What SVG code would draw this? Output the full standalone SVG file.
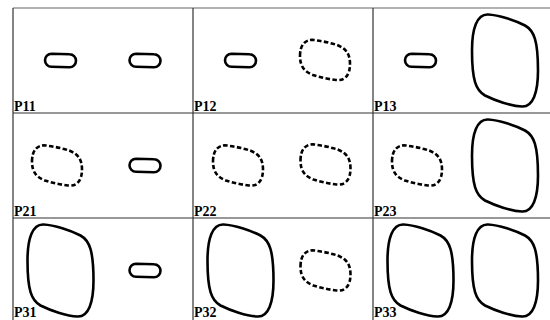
<svg xmlns="http://www.w3.org/2000/svg" xmlns:xlink="http://www.w3.org/1999/xlink" width="550" height="320" viewBox="0 0 550 320">
<style>
.grid{stroke:#333;stroke-width:1.2;fill:none}
.sh{fill:none;stroke:#000;stroke-width:2.6;stroke-linejoin:round}
.dash{stroke-dasharray:4.5 2.4}
.lbl{font-family:"Liberation Serif","Times New Roman",serif;font-size:14px;font-weight:bold;fill:#000}
</style>
<defs>
<path id="small" class="sh" d="M -9,-6.8 L 9,-6.2 A 6.5,6.5 0 0 1 9,6.8 L -9,6.2 A 6.5,6.5 0 0 1 -9,-6.8 Z"/>
<path id="dashed" class="sh dash" d="M -25,-4 C -25,-15 -20,-21 -11,-20 C -3,-19 6,-17 12,-15 C 20,-12 25,-7 25,4 C 25,15 20,21 11,20 C 3,19 -6,17 -12,15 C -20,12 -25,7 -25,-4 Z"/>
<path id="big" class="sh" d="M -33,-10 C -33,-32 -28,-46.5 -17,-46 C -6,-45.5 10,-40 20,-35 C 29,-30 33,-20 33,10 C 33,32 28,46.5 17,46 C 6,45.5 -10,40 -20,35 C -29,30 -33,20 -33,-10 Z"/>
</defs>
<rect width="550" height="320" fill="#fff"/>
<g id="grid" class="grid">
<line x1="13" y1="8" x2="550" y2="8" stroke="#666"/>
<line x1="13" y1="113" x2="550" y2="113"/>
<line x1="13" y1="218" x2="550" y2="218"/>
<line x1="13" y1="8" x2="13" y2="320"/>
<line x1="193" y1="8" x2="193" y2="320"/>
<line x1="373" y1="8" x2="373" y2="320"/>
</g>
<g id="connectors"></g>
<g id="P11"><use href="#small" x="60.5" y="60.5"/><use href="#small" x="145" y="60.5"/><text class="lbl" x="14" y="111">P11</text></g>
<g id="P12"><use href="#small" x="240.5" y="60.5"/><use href="#dashed" x="325" y="60"/><text class="lbl" x="194" y="111">P12</text></g>
<g id="P13"><use href="#small" x="420.5" y="60.5"/><use href="#big" x="505" y="60.5"/><text class="lbl" x="374" y="111">P13</text></g>
<g id="P21"><use href="#dashed" x="57" y="165.5"/><use href="#small" x="145" y="165.5"/><text class="lbl" x="14" y="216">P21</text></g>
<g id="P22"><use href="#dashed" x="238" y="165.5"/><use href="#dashed" x="325.5" y="164.5"/><text class="lbl" x="194" y="216">P22</text></g>
<g id="P23"><use href="#dashed" x="417" y="165.5"/><use href="#big" x="505" y="165.5"/><text class="lbl" x="374" y="216">P23</text></g>
<g id="P31"><use href="#big" x="60.5" y="270.5"/><use href="#small" x="145" y="270.5"/><text class="lbl" x="14" y="317">P31</text></g>
<g id="P32"><use href="#big" x="240.5" y="270.5"/><use href="#dashed" x="325.5" y="270.5"/><text class="lbl" x="194" y="317">P32</text></g>
<g id="P33"><use href="#big" x="420.5" y="270.5"/><use href="#big" x="505" y="270.5"/><text class="lbl" x="374" y="317">P33</text></g>
</svg>
